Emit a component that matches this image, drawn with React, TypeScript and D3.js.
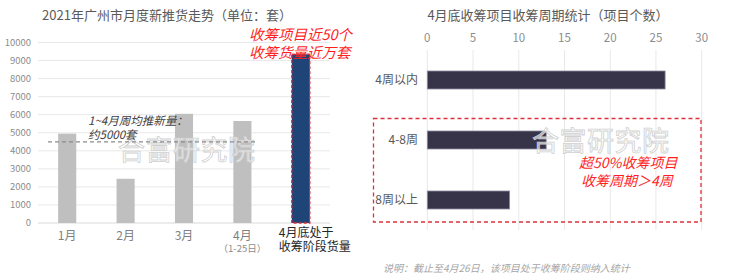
import React from "react";
import * as d3 from "d3";

const monthCats = ["1月", "2月", "3月", "4月", "4月底处于"];
const monthValues = [4950, 2450, 6050, 5650, 9350];
const yTicks = [0, 1000, 2000, 3000, 4000, 5000, 6000, 7000, 8000, 9000, 10000];
const avgLine = 4500;

const cycleCats = ["4周以内", "4-8周", "8周以上"];
const cycleValues = [26, 13, 9];
const xTicks = [0, 5, 10, 15, 20, 25, 30];

const CJK = "'Noto Sans CJK SC', 'Noto Sans', sans-serif";

export default function App() {
  const xL = d3.scaleBand<string>().domain(monthCats).range([38, 330]).paddingInner(0.69).paddingOuter(0.345);
  const yL = d3.scaleLinear().domain([0, 10000]).range([223, 42.5]);

  const xR = d3.scaleLinear().domain([0, 30]).range([427.3, 701.7]);
  const yR = d3.scaleBand<string>().domain(cycleCats).range([50, 230]).paddingInner(0.7).paddingOuter(0.35);

  const bw = xL.bandwidth();
  return (
    <svg width={740} height={280} style={{ position: "absolute", left: 0, top: 0, background: "#fff" }} fontFamily={CJK}>
      {/* Left chart */}
      <text x={167} y={20} textAnchor="middle" fontSize={13} fill="#595959">2021年广州市月度新推货走势（单位：套）</text>
      {yTicks.map((t) => (
        <g key={t}>
          <line x1={38} x2={330} y1={yL(t)} y2={yL(t)} stroke={t === 0 ? "#d9d9d9" : "#e8e8e8"} strokeWidth={1} />
          <text x={31} y={yL(t)} dy="0.35em" textAnchor="end" fontSize={9.5} fill="#8c8c8c">{t}</text>
        </g>
      ))}
      {monthCats.map((c, i) => {
        const x = xL(c)!;
        const y = yL(monthValues[i]);
        const last = i === monthCats.length - 1;
        return (
          <g key={c}>
            <rect x={x} y={y} width={bw} height={yL(0) - y} fill={last ? "#1f4478" : "#bfbfbf"} />
            {last && (
              <rect x={x} y={y} width={bw} height={yL(0) - y} fill="none" stroke="#e0303a" strokeWidth={1.3} strokeDasharray="3 2" />
            )}
          </g>
        );
      })}
      {monthCats.slice(0, 4).map((c) => (
        <text key={c} x={xL(c)! + bw / 2} y={240} textAnchor="middle" fontSize={12} fill="#7f7f7f">{c}</text>
      ))}
      <text x={xL("4月")! + bw / 2} y={252} textAnchor="middle" fontSize={9.5} fill="#8c8c8c">（1-25日）</text>
      <text x={xL("4月底处于")! + bw / 2 - 22} y={237} fontSize={12} fill="#262626">4月底处于</text>
      <text x={xL("4月底处于")! + bw / 2 - 22} y={251} fontSize={12} fill="#262626">收筹阶段货量</text>

      {/* watermark left */}
      <text x={118} y={160} fontSize={27} fill="#ffffff" fillOpacity={0.6} stroke="#d0d0d0" strokeWidth={0.8} letterSpacing={0.5}>合富研究院</text>

      <line x1={48} x2={255} y1={yL(avgLine)} y2={yL(avgLine)} stroke="#8c8c8c" strokeWidth={1.2} strokeDasharray="4 3" />
      <text x={88} y={125} fontSize={11.5} fontStyle="italic" fill="#404040">1~4月周均推新量：</text>
      <text x={88} y={139} fontSize={11.5} fontStyle="italic" fill="#404040">约5000套</text>

      <text x={249} y={40} fontSize={14.5} fontStyle="italic" fill="#ff1f1f">收筹项目近50个</text>
      <text x={249} y={58} fontSize={14.5} fontStyle="italic" fill="#ff1f1f">收筹货量近万套</text>

      {/* Right chart */}
      <text x={548} y={20} textAnchor="middle" fontSize={13} fill="#595959">4月底收筹项目收筹周期统计（项目个数）</text>
      {xTicks.map((t) => (
        <g key={t}>
          <line x1={xR(t)} x2={xR(t)} y1={50} y2={230} stroke="#e8e8e8" strokeWidth={1} />
          <text x={xR(t)} y={42} textAnchor="middle" fontSize={11.5} fill="#8c8c8c">{t}</text>
        </g>
      ))}
      {cycleCats.map((c, i) => (
        <g key={c}>
          <rect x={xR(0)} y={yR(c)!} width={xR(cycleValues[i]) - xR(0)} height={yR.bandwidth()} fill="#37344a" stroke="#8e8ca0" strokeWidth={0.8} />
          <text x={418} y={yR(c)! + yR.bandwidth() / 2} dy="0.35em" textAnchor="end" fontSize={12} fill="#595959">{c}</text>
        </g>
      ))}
      <rect x={373.5} y={118.5} width={327.5} height={103.5} fill="none" stroke="#e0303a" strokeWidth={1.3} strokeDasharray="4 3" />

      <text x={532} y={151} fontSize={27} fill="#ffffff" fillOpacity={0.6} stroke="#d0d0d0" strokeWidth={0.8} letterSpacing={0.5}>合富研究院</text>

      <text x={579} y={168} fontSize={14} fontStyle="italic" fill="#ff1f1f">超50%收筹项目</text>
      <text x={581} y={186} fontSize={14} fontStyle="italic" fill="#ff1f1f">收筹周期＞4周</text>

      <text x={383} y={272} fontSize={10} fontStyle="italic" fill="#a6a6a6">说明：截止至4月26日，该项目处于收筹阶段则纳入统计</text>
    </svg>
  );
}
